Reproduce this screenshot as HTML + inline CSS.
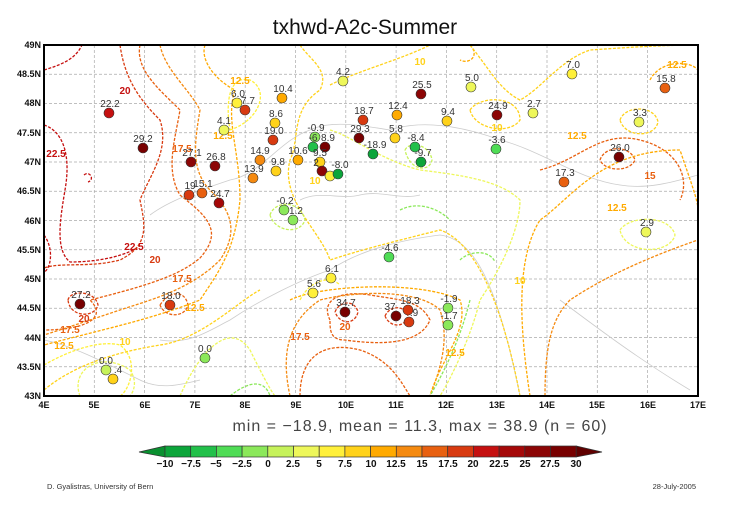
<!DOCTYPE html>
<html><head><meta charset="utf-8"><style>
body{margin:0;background:#fff;width:730px;height:510px;overflow:hidden;font-family:"Liberation Sans",sans-serif}
</style></head><body>
<svg width="730" height="510" xmlns="http://www.w3.org/2000/svg" font-family="Liberation Sans, sans-serif">
<text x="365" y="34" font-size="21" text-anchor="middle" fill="#111">txhwd-A2c-Summer</text>
<g stroke="#aaa" stroke-width="0.7" stroke-dasharray="3,2">
<line x1="94.3" y1="45" x2="94.3" y2="396"/><line x1="144.6" y1="45" x2="144.6" y2="396"/><line x1="194.9" y1="45" x2="194.9" y2="396"/><line x1="245.2" y1="45" x2="245.2" y2="396"/><line x1="295.5" y1="45" x2="295.5" y2="396"/><line x1="345.8" y1="45" x2="345.8" y2="396"/><line x1="396.1" y1="45" x2="396.1" y2="396"/><line x1="446.4" y1="45" x2="446.4" y2="396"/><line x1="496.7" y1="45" x2="496.7" y2="396"/><line x1="547" y1="45" x2="547" y2="396"/><line x1="597.3" y1="45" x2="597.3" y2="396"/><line x1="647.6" y1="45" x2="647.6" y2="396"/>
<line x1="44" y1="74.25" x2="698" y2="74.25"/><line x1="44" y1="103.5" x2="698" y2="103.5"/><line x1="44" y1="132.75" x2="698" y2="132.75"/><line x1="44" y1="162" x2="698" y2="162"/><line x1="44" y1="191.25" x2="698" y2="191.25"/><line x1="44" y1="220.5" x2="698" y2="220.5"/><line x1="44" y1="249.75" x2="698" y2="249.75"/><line x1="44" y1="279" x2="698" y2="279"/><line x1="44" y1="308.25" x2="698" y2="308.25"/><line x1="44" y1="337.5" x2="698" y2="337.5"/><line x1="44" y1="366.75" x2="698" y2="366.75"/>
</g>
<g fill="none" stroke="#ccc" stroke-width="0.8">
<path d="M150,215 C170,200 200,190 230,180 C260,175 280,140 310,130 C330,120 360,125 390,130 C420,120 460,125 500,140 C540,150 580,180 620,185 C650,190 680,180 698,175"/>
<path d="M160,340 C190,345 210,330 230,320 C260,300 300,280 330,270 C360,250 400,240 440,235 C480,240 500,300 520,396"/>
<path d="M560,300 C600,330 640,360 690,390"/>
<path d="M300,200 C320,190 340,200 360,195 C380,190 400,200 420,195"/>
<path d="M44,340 C70,345 100,360 140,380 C160,390 180,385 200,380"/>
</g>
<g fill="none" stroke-width="1.3" stroke-dasharray="3,1.5">
<path stroke="#c51010" d="M44,70 C60,65 75,60 82,45 M44,125 C60,130 72,150 65,190 C60,220 55,250 70,262 C100,262 130,255 140,245 M44,235 C55,250 50,270 44,272 M84,175 C90,170 95,180 88,182"/>
<path stroke="#d83a10" d="M120,45 C125,80 140,100 160,120 C170,150 150,175 140,200 C145,225 150,245 120,260 C90,268 60,262 44,268 M68,300 C70,290 95,290 98,305 C95,318 70,318 68,300 M335,312 C340,300 355,300 358,312 C355,325 340,325 335,312 M385,316 C390,305 405,305 408,316 C405,328 390,328 385,316"/>
<path stroke="#e86010" d="M140,45 C135,70 160,90 180,110 C175,140 165,170 180,195 C205,215 225,230 200,258 C180,275 150,285 90,300 C110,320 80,330 44,330 M160,305 C170,290 185,290 188,305 C185,318 165,318 160,305 M330,320 C320,300 340,290 370,295 C400,300 420,300 430,320 C420,345 380,345 345,340 C330,340 330,330 330,320 M540,170 C580,160 600,130 640,140 C680,150 690,180 680,200 M600,160 C605,145 630,145 635,160 C630,172 605,172 600,160 M300,396 C300,360 320,340 360,350 C390,360 400,380 410,396"/>
<path stroke="#f58a10" d="M160,45 C165,70 190,90 200,110 C195,140 190,170 210,190 C230,210 240,230 220,260 C190,290 150,300 120,310 C90,320 60,330 44,335 M290,396 C280,350 290,320 320,300 C360,290 420,290 440,310 C450,340 440,370 430,396 M545,396 C545,350 550,320 570,300 C600,280 640,260 698,240"/>
<path stroke="#ffaa00" d="M205,45 C200,60 215,80 235,90 C225,120 240,150 240,200 C235,250 220,270 200,300 C150,320 100,330 44,345 M290,300 C320,285 420,280 460,300 C470,330 440,360 430,396 M530,396 C520,330 515,260 540,220 C570,200 600,150 680,150 C690,180 698,200 698,210 M650,80 C660,60 690,60 698,70 M470,45 C480,55 470,65 460,60"/>
<path stroke="#ffd21a" d="M300,45 C310,60 330,70 320,90 C290,110 300,140 290,160 C280,200 320,230 330,260 C360,250 400,240 440,230 C470,240 500,290 520,396 M330,85 C360,70 400,60 430,45 M470,45 C490,70 500,90 520,100 C540,90 560,60 590,50 C620,48 660,45 698,45 M470,110 C480,95 520,95 520,120 C510,135 475,130 470,110 M44,390 C80,360 130,350 160,345 C200,340 240,300 260,290 M620,120 C625,105 655,105 658,122 C655,138 625,138 620,120"/>
<path stroke="#fff03a" d="M44,365 C70,350 100,340 120,345 C140,360 130,390 120,396 M230,130 C260,120 270,90 250,80 C230,75 225,100 230,130 M300,300 C310,280 330,275 340,285"/>
<path stroke="#eef75a" d="M330,130 C350,135 380,160 420,170 C460,175 500,180 520,200 C520,230 500,270 480,300 C470,340 450,380 440,396 M80,396 C70,370 100,350 130,370 C140,385 130,396 130,396 M180,396 C200,350 230,320 250,350 C260,370 270,390 275,396 M620,230 C630,215 670,215 675,235 C670,255 625,255 620,230"/>
<path stroke="#c6f25a" d="M405,150 C410,140 430,145 432,160 C430,172 410,172 405,150 M270,215 C275,200 300,200 305,220 C300,235 275,232 270,215"/>
<path stroke="#8be85a" d="M400,210 C420,200 440,210 450,220 M460,260 C470,250 490,250 495,262 M470,300 C460,340 445,370 430,396 M230,396 C250,380 265,380 270,396"/>
</g>
<g font-size="10" font-weight="bold" text-anchor="middle">
<text x="56" y="157" fill="#c51010">22.5</text><text x="125" y="94" fill="#c51010">20</text><text x="134" y="250" fill="#c51010">22.5</text>
<text x="155" y="263" fill="#d83a10">20</text><text x="182" y="152" fill="#e86010">17.5</text><text x="182" y="282" fill="#e86010">17.5</text>
<text x="84" y="322" fill="#d83a10">20</text><text x="70" y="333" fill="#e86010">17.5</text><text x="64" y="349" fill="#ffaa00">12.5</text>
<text x="223" y="139" fill="#ffaa00">12.5</text><text x="240" y="84" fill="#ffaa00">12.5</text><text x="195" y="311" fill="#ffaa00">12.5</text>
<text x="125" y="345" fill="#ffd21a">10</text><text x="315" y="184" fill="#ffd21a">10</text><text x="345" y="330" fill="#e86010">20</text>
<text x="300" y="340" fill="#e86010">17.5</text><text x="455" y="356" fill="#ffaa00">12.5</text><text x="577" y="139" fill="#ffaa00">12.5</text>
<text x="617" y="211" fill="#ffaa00">12.5</text><text x="650" y="179" fill="#e86010">15</text><text x="677" y="68" fill="#ffaa00">12.5</text>
<text x="497" y="131" fill="#ffd21a">10</text><text x="420" y="65" fill="#ffd21a">10</text><text x="520" y="284" fill="#ffd21a">10</text>
</g>
<g stroke="#333" stroke-width="0.6">
<circle cx="109" cy="113" r="5" fill="#c51010"/><circle cx="143" cy="148" r="5" fill="#780000"/><circle cx="191" cy="162" r="5" fill="#8c0505"/><circle cx="215" cy="166" r="5" fill="#8c0505"/>
<circle cx="189" cy="195" r="5" fill="#d83a10"/><circle cx="202" cy="193" r="5" fill="#e86010"/><circle cx="219" cy="203" r="5" fill="#a50808"/><circle cx="237" cy="103" r="5" fill="#fff03a"/>
<circle cx="245" cy="110" r="5" fill="#d83a10"/><circle cx="224" cy="130" r="5" fill="#eef75a"/><circle cx="282" cy="98" r="5" fill="#ffaa00"/><circle cx="275" cy="123" r="5" fill="#ffd21a"/>
<circle cx="273" cy="140" r="5" fill="#d83a10"/><circle cx="260" cy="160" r="5" fill="#f58a10"/><circle cx="276" cy="171" r="5" fill="#ffd21a"/><circle cx="253" cy="178" r="5" fill="#f58a10"/>
<circle cx="298" cy="160" r="5" fill="#ffaa00"/><circle cx="315" cy="137" r="5" fill="#8be85a"/><circle cx="313" cy="147" r="5" fill="#22c04a"/><circle cx="325" cy="147" r="5" fill="#780000"/>
<circle cx="320" cy="162" r="5" fill="#ffd21a"/><circle cx="322" cy="171" r="5" fill="#8c0505"/><circle cx="330" cy="176" r="5" fill="#fff03a"/><circle cx="338" cy="174" r="5" fill="#0ca53a"/>
<circle cx="343" cy="81" r="5" fill="#eef75a"/><circle cx="363" cy="120" r="5" fill="#d83a10"/><circle cx="359" cy="138" r="5" fill="#780000"/><circle cx="373" cy="154" r="5" fill="#0ca53a"/>
<circle cx="395" cy="138" r="5" fill="#ffd21a"/><circle cx="397" cy="115" r="5" fill="#ffaa00"/><circle cx="421" cy="94" r="5" fill="#8c0505"/><circle cx="415" cy="147" r="5" fill="#22c04a"/>
<circle cx="421" cy="162" r="5" fill="#0ca53a"/><circle cx="447" cy="121" r="5" fill="#ffd21a"/><circle cx="471" cy="87" r="5" fill="#eef75a"/><circle cx="497" cy="115" r="5" fill="#8c0505"/>
<circle cx="533" cy="113" r="5" fill="#eef75a"/><circle cx="496" cy="149" r="5" fill="#4fdc55"/><circle cx="572" cy="74" r="5" fill="#fff03a"/><circle cx="665" cy="88" r="5" fill="#e86010"/>
<circle cx="639" cy="122" r="5" fill="#eef75a"/><circle cx="619" cy="157" r="5" fill="#780000"/><circle cx="564" cy="182" r="5" fill="#e86010"/><circle cx="646" cy="232" r="5" fill="#eef75a"/>
<circle cx="284" cy="210" r="5" fill="#8be85a"/><circle cx="293" cy="220" r="5" fill="#8be85a"/><circle cx="389" cy="257" r="5" fill="#4fdc55"/><circle cx="331" cy="278" r="5" fill="#fff03a"/>
<circle cx="313" cy="293" r="5" fill="#fff03a"/><circle cx="345" cy="312" r="5" fill="#780000"/><circle cx="396" cy="316" r="5" fill="#780000"/><circle cx="408" cy="310" r="5" fill="#d83a10"/>
<circle cx="409" cy="322" r="5" fill="#d83a10"/><circle cx="448" cy="308" r="5" fill="#8be85a"/><circle cx="448" cy="325" r="5" fill="#8be85a"/><circle cx="80" cy="304" r="5" fill="#780000"/>
<circle cx="170" cy="305" r="5" fill="#d83a10"/><circle cx="205" cy="358" r="5" fill="#8be85a"/><circle cx="106" cy="370" r="5" fill="#c6f25a"/><circle cx="113" cy="379" r="5" fill="#ffd21a"/>
</g>
<g font-size="10" fill="#333" text-anchor="middle">
<text x="110" y="107">22.2</text><text x="143" y="142">29.2</text><text x="192" y="156">27.1</text><text x="216" y="160">26.8</text><text x="190" y="189">19</text><text x="203" y="187">15.1</text><text x="220" y="197">24.7</text>
<text x="238" y="97">6.0</text><text x="248" y="104">7.7</text><text x="224" y="124">4.1</text><text x="283" y="92">10.4</text><text x="276" y="117">8.6</text><text x="274" y="134">19.0</text><text x="260" y="154">14.9</text><text x="278" y="165">9.8</text><text x="254" y="172">13.9</text>
<text x="298" y="154">10.6</text><text x="316" y="131">-0.9</text><text x="313" y="141">-6</text><text x="328" y="141">8.9</text><text x="320" y="156">9.5</text><text x="316" y="166">2</text><text x="340" y="168">-8.0</text>
<text x="343" y="75">4.2</text><text x="364" y="114">18.7</text><text x="360" y="132">29.3</text><text x="375" y="148">-18.9</text><text x="396" y="132">5.8</text><text x="398" y="109">12.4</text><text x="422" y="88">25.5</text>
<text x="416" y="141">-8.4</text><text x="423" y="156">-9.7</text><text x="448" y="115">9.4</text><text x="472" y="81">5.0</text><text x="498" y="109">24.9</text><text x="534" y="107">2.7</text><text x="497" y="143">-3.6</text>
<text x="573" y="68">7.0</text><text x="666" y="82">15.8</text><text x="640" y="116">3.3</text><text x="620" y="151">26.0</text><text x="565" y="176">17.3</text><text x="647" y="226">2.9</text>
<text x="285" y="204">-0.2</text><text x="296" y="214">1.2</text><text x="390" y="251">-4.6</text><text x="332" y="272">6.1</text><text x="314" y="287">5.6</text><text x="346" y="306">34.7</text><text x="390" y="310">37</text><text x="410" y="304">18.3</text><text x="414" y="316">.9</text>
<text x="449" y="302">-1.9</text><text x="449" y="319">-1.7</text><text x="81" y="298">27.2</text><text x="171" y="299">18.0</text><text x="205" y="352">0.0</text><text x="106" y="364">0.0</text><text x="118" y="373">.4</text>
</g>
<rect x="44" y="45" width="654" height="351" fill="none" stroke="#000" stroke-width="2"/>
<g font-size="9" font-weight="bold" text-anchor="end" fill="#111">
<text x="41" y="48">49N</text><text x="41" y="77">48.5N</text><text x="41" y="106">48N</text><text x="41" y="136">47.5N</text><text x="41" y="165">47N</text><text x="41" y="194">46.5N</text><text x="41" y="224">46N</text><text x="41" y="253">45.5N</text><text x="41" y="282">45N</text><text x="41" y="311">44.5N</text><text x="41" y="341">44N</text><text x="41" y="370">43.5N</text><text x="41" y="399">43N</text>
</g>
<g font-size="9" font-weight="bold" text-anchor="middle" fill="#111">
<text x="44" y="408">4E</text><text x="94" y="408">5E</text><text x="145" y="408">6E</text><text x="195" y="408">7E</text><text x="245" y="408">8E</text><text x="296" y="408">9E</text><text x="346" y="408">10E</text><text x="396" y="408">11E</text><text x="446" y="408">12E</text><text x="497" y="408">13E</text><text x="547" y="408">14E</text><text x="597" y="408">15E</text><text x="648" y="408">16E</text><text x="698" y="408">17E</text>
</g>
<text x="420" y="431" font-size="16" text-anchor="middle" fill="#444" letter-spacing="1">min = −18.9, mean = 11.3, max = 38.9 (n = 60)</text>
<g stroke="#333" stroke-width="0.7">
<polygon points="139,452 165,446 165,457" fill="#0a9030"/>
<rect x="165" y="446" width="25.7" height="11" fill="#0ca53a"/><rect x="190.7" y="446" width="25.7" height="11" fill="#22c04a"/><rect x="216.4" y="446" width="25.7" height="11" fill="#4fdc55"/><rect x="242.1" y="446" width="25.7" height="11" fill="#8be85a"/>
<rect x="267.8" y="446" width="25.7" height="11" fill="#c6f25a"/><rect x="293.5" y="446" width="25.7" height="11" fill="#eef75a"/><rect x="319.2" y="446" width="25.7" height="11" fill="#fff03a"/><rect x="344.9" y="446" width="25.7" height="11" fill="#ffd21a"/>
<rect x="370.6" y="446" width="25.7" height="11" fill="#ffaa00"/><rect x="396.3" y="446" width="25.7" height="11" fill="#f58a10"/><rect x="422" y="446" width="25.7" height="11" fill="#e86010"/><rect x="447.7" y="446" width="25.7" height="11" fill="#d83a10"/>
<rect x="473.4" y="446" width="25.7" height="11" fill="#c51010"/><rect x="499.1" y="446" width="25.7" height="11" fill="#a50808"/><rect x="524.8" y="446" width="25.7" height="11" fill="#8c0505"/><rect x="550.5" y="446" width="25.7" height="11" fill="#780000"/>
<polygon points="576.2,446 602,452 576.2,457" fill="#600000"/>
</g>
<g font-size="10" font-weight="bold" text-anchor="middle" fill="#111">
<text x="165" y="467">−10</text><text x="191" y="467">−7.5</text><text x="216" y="467">−5</text><text x="242" y="467">−2.5</text><text x="268" y="467">0</text><text x="293" y="467">2.5</text><text x="319" y="467">5</text><text x="345" y="467">7.5</text><text x="371" y="467">10</text><text x="396" y="467">12.5</text><text x="422" y="467">15</text><text x="448" y="467">17.5</text><text x="473" y="467">20</text><text x="499" y="467">22.5</text><text x="525" y="467">25</text><text x="550" y="467">27.5</text><text x="576" y="467">30</text>
</g>
<text x="47" y="489" font-size="7.5" fill="#333">D. Gyalistras, University of Bern</text>
<text x="696" y="489" font-size="7.5" fill="#333" text-anchor="end">28-July-2005</text>
</svg>
</body></html>
